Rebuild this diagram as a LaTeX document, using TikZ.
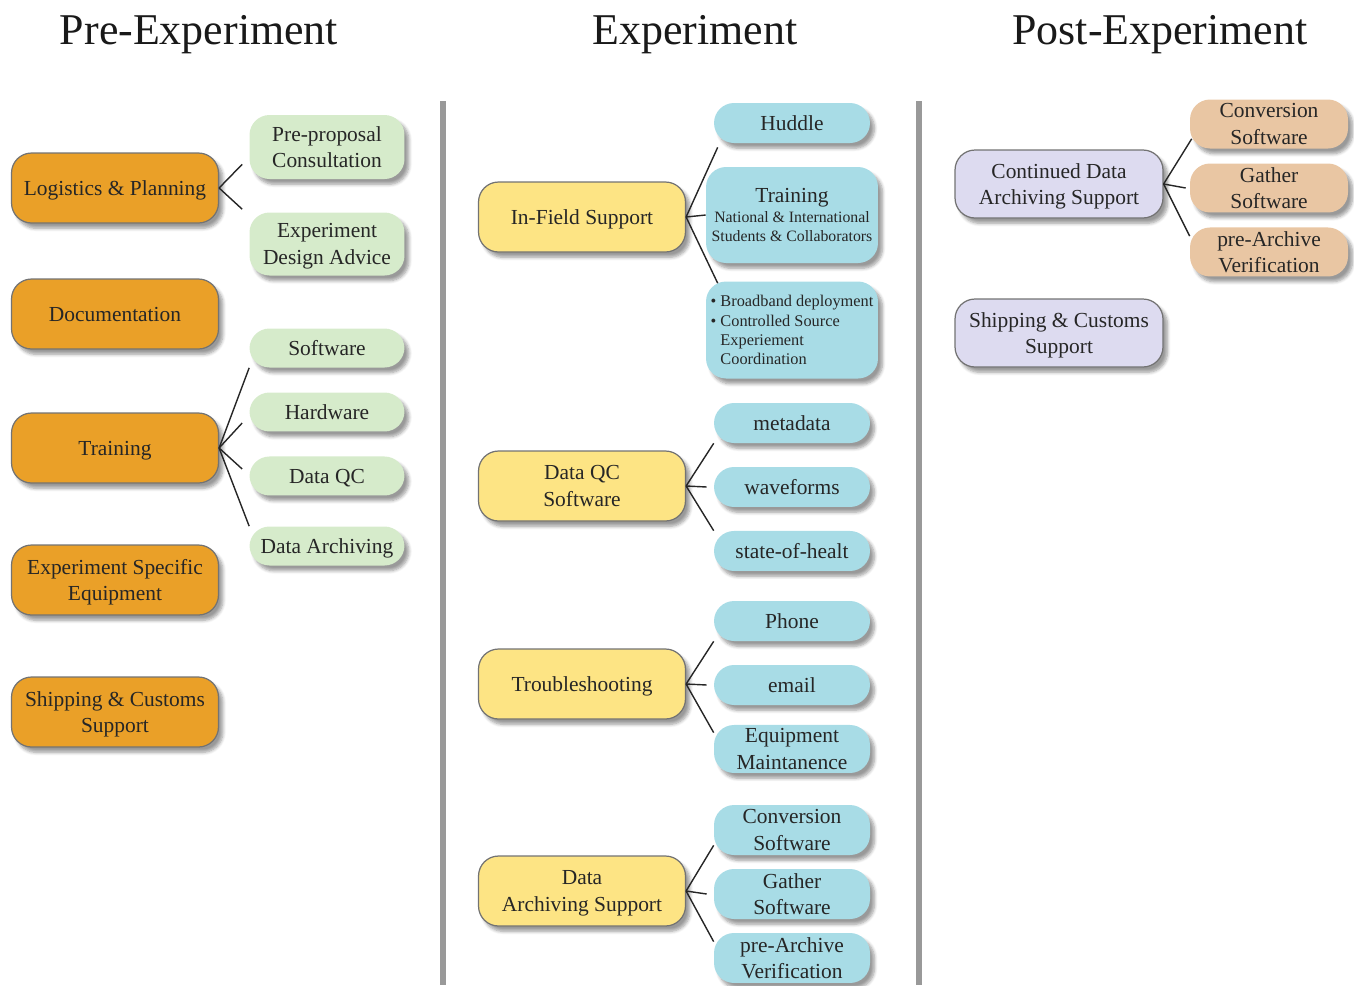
\documentclass[tikz,border=0pt]{standalone}
\usepackage{fontspec}
\setmainfont{Liberation Serif}
\usepackage{tikz}
\usepackage{xcolor}
\usetikzlibrary{calc, shadows, shadows.blur}
\definecolor{preorange}{RGB}{234,160,40}
\definecolor{pregreen}{RGB}{214,235,203}
\definecolor{expyellow}{RGB}{253,228,132}
\definecolor{expblue}{RGB}{168,220,230}
\definecolor{postlilac}{RGB}{221,219,240}
\definecolor{posttan}{RGB}{233,198,163}
\tikzstyle{box} = [
    rectangle, rounded corners=0.4cm, align=center, text=black!85,
    font=\fontsize{12.2}{15.2}\selectfont, text depth=0pt,
    blur shadow={shadow xshift=2.5pt, shadow yshift=-3pt, shadow blur steps=6, shadow opacity=40}
]
\tikzstyle{pre-block} = [
    box, minimum width=4.14cm, minimum height=1.4cm,
    fill=preorange, draw=black!55, line width=0.7pt
]
\tikzstyle{pre-item} = [box, minimum width=3.1cm, minimum height=0.78cm, fill=pregreen]
\tikzstyle{exp-block} = [
    box, minimum width=4.14cm, minimum height=1.4cm,
    fill=expyellow, draw=black!55, line width=0.7pt
]
\tikzstyle{exp-item} = [box, minimum width=3.12cm, minimum height=0.8cm, fill=expblue]
\tikzstyle{post-block} = [
    box, minimum width=4.16cm, minimum height=1.36cm,
    fill=postlilac, draw=black!55, line width=0.7pt
]
\tikzstyle{post-item} = [box, minimum width=3.16cm, minimum height=0.98cm, inner ysep=1pt, fill=posttan]
\tikzstyle{small} = [font=\fontsize{9.3}{10.9}\selectfont]
\tikzstyle{branch} = [line width=0.8pt, black!85]
\tikzstyle{divider} = [line width=3.4pt, black!40]
\tikzstyle{phase} = [anchor=base, text=black!90, font=\fontsize{25}{30}\selectfont]

\begin{document}
\begin{tikzpicture}[x=0.02cm, y=-0.02cm, node distance=1.28cm]
            \useasboundingbox (0,0) rectangle (1354,985);

            \node (pre) [phase] at (199,44) {Pre-Experiment};
            \node (exp) [phase] at (695,44) {Experiment};
            \node (post) [phase] at (1160,44) {Post-Experiment};

            \draw [divider] (443,101) -- (443,985);
            \draw [divider] (919,101) -- (919,985);

            % pre-experiment
            \node (plan) [pre-block] at (115,188) {Logistics \& Planning};
            \node (docs) [pre-block] at (115,314) {Documentation};
            \node (train) [pre-block] at (115,448) {Training};
            \node (equip) [pre-block] at (115,580) {Experiment Specific\\Equipment};
            \node (ship) [pre-block] at (115,712) {Shipping \& Customs\\Support};

            \node (plan1) [pre-item, minimum height=1.28cm] at (327,147) {Pre-proposal\\Consultation};
            \node (plan2) [pre-item, minimum height=1.26cm] at (327,244) {Experiment\\Design Advice};

            \node (train1) [pre-item] at (327,348) {Software};
            \node (train2) [pre-item, below of=train1] {Hardware};
            \node (train3) [pre-item, below of=train2] {Data QC};
            \node (train4) [pre-item] at (327,546) {Data Archiving};

            % experiment
            \node (field) [exp-block] at (582,217) {In-Field Support};
            \node (qc) [exp-block] at (582,486) {Data QC\\Software};
            \node (fix) [exp-block] at (582,684) {Troubleshooting};
            \node (arch) [exp-block] at (582,891) {Data\\Archiving Support};

            \node (field1) [exp-item] at (792,123) {Huddle};
            \node (field2) [exp-item, minimum width=3.44cm, minimum height=1.92cm, inner xsep=1pt] at (792,215)
                            {Training\\[-4pt]{\small National \& International}\\[-4.5pt]{\small Students \& Collaborators}};
            \node (field3) [exp-item, small, align=left, minimum width=3.44cm, minimum height=1.94cm, inner xsep=1pt] at (792,330)
                            {\textbullet\ Broadband deployment\\\textbullet\ Controlled Source\\\hphantom{\textbullet\ }Experiement\\\hphantom{\textbullet\ }Coordination};

            \node (qc1) [exp-item] at (792,423) {metadata};
            \node (qc2) [exp-item, below of=qc1] {waveforms};
            \node (qc3) [exp-item, below of=qc2] {state-of-healt};

            \node (fix1) [exp-item] at (792,621) {Phone};
            \node (fix2) [exp-item, below of=fix1] {email};
            \node (fix3) [exp-item, minimum height=0.96cm, inner ysep=0pt, below of=fix2] {Equipment\\Maintanence};

            \node (arch1) [exp-item, minimum height=1cm, inner ysep=1pt] at (792,830) {Conversion\\Software};
            \node (arch2) [exp-item, minimum height=1cm, inner ysep=1pt, below of=arch1] {Gather\\Software};
            \node (arch3) [exp-item, minimum height=1cm, inner ysep=1pt, below of=arch2] {pre-Archive\\Verification};

            % post-experiment
            \node (keep) [post-block] at (1059,184) {Continued Data\\Archiving Support};
            \node (customs) [post-block] at (1059,333) {Shipping \& Customs\\Support};

            \node (keep1) [post-item] at (1269,124) {Conversion\\Software};
            \node (keep2) [post-item, below of=keep1] {Gather\\Software};
            \node (keep3) [post-item, below of=keep2] {pre-Archive\\Verification};

            \draw [branch] (plan.east) -- ($(plan1.south west)+(-7,-15)$);
            \draw [branch] (plan.east) -- ($(plan2.north west)+(-7,-3)$);

            \draw [branch] (train.east) -- (train1.south west);
            \draw [branch] (train.east) -- ($(train2.west)+(-7,11)$);
            \draw [branch] (train.east) -- ($(train3.west)+(-7,-7)$);
            \draw [branch] (train.east) -- (train4.north west);

            \draw [branch] (field.east) -- ($(field1.south west)+(4,4)$);
            \draw [branch] (field.east) -- (field2.west);
            \draw [branch] (field.east) -- ($(field3.north west)+(12,2)$);

            \draw [branch] (qc.east) -- (qc1.south west);
            \draw [branch] (qc.east) -- ($(qc2.west)+(-7,0)$);
            \draw [branch] (qc.east) -- (qc3.north west);

            \draw [branch] (fix.east) -- (fix1.south west);
            \draw [branch] (fix.east) -- ($(fix2.west)+(-7,0)$);
            \draw [branch] (fix.east) -- ($(fix3.north west)+(0,8)$);

            \draw [branch] (arch.east) -- ($(arch1.south west)+(0,-10)$);
            \draw [branch] (arch.east) -- ($(arch2.west)+(-7,0)$);
            \draw [branch] (arch.east) -- ($(arch3.north west)+(0,9)$);

            \draw [branch] (keep.east) -- ($(keep1.south west)+(2,-10)$);
            \draw [branch] (keep.east) -- ($(keep2.west)+(-4,0)$);
            \draw [branch] (keep.east) -- ($(keep3.north west)+(0,9)$);
        \end{tikzpicture}
\end{document}
